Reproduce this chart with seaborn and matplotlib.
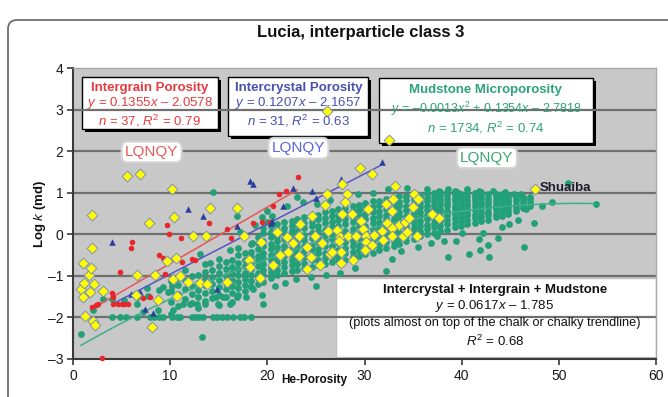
import matplotlib
matplotlib.use("Agg")
import numpy as np
import pandas as pd
import seaborn as sns
import matplotlib.pyplot as plt
from matplotlib.patches import Rectangle, FancyBboxPatch
from matplotlib.transforms import offset_copy, IdentityTransform

# ---------------------------------------------------------------- data
# Mudstone microporosity: dense core, one list of log k values per porosity column
mud_core_x = [10.1, 10.8, 11.5, 12.2, 12.9, 13.6, 14.3, 15.0, 15.7, 16.4, 17.0, 17.7,
              18.3, 19.0, 19.6, 20.4, 21.0, 21.7, 22.5, 23.1, 23.8, 24.6, 25.2, 25.9,
              26.7, 27.3, 28.0, 28.8, 29.4, 30.1, 30.9, 31.5, 32.2, 33.0, 33.6, 34.3,
              35.1, 35.7, 36.4, 37.2, 37.8, 38.5, 39.3, 39.9, 40.6, 41.4, 42.0, 42.7,
              43.5, 44.1, 44.8, 45.6, 46.3, 47.0]
mud_core_y = [
    [-1.91, -1.63, -1.36, -1.13],
    [-1.72, -1.44, -1.21, -1.04],
    [-1.56, -1.31, -1.09, -0.87],
    [-1.66, -1.43, -1.24, -1.01],
    [-1.77, -1.52, -1.34, -1.17, -0.97],
    [-1.61, -1.41, -1.21, -1.07, -0.90, -0.71],
    [-1.54, -1.36, -1.19, -1.03, -0.86],
    [-1.69, -1.46, -1.27, -1.11, -0.94, -0.77, -0.59],
    [-1.51, -1.32, -1.17, -1.01, -0.84, -0.67],
    [-1.63, -1.41, -1.24, -1.09, -0.93, -0.79, -0.61],
    [-1.47, -1.29, -1.14, -0.99, -0.84, -0.69, -0.51, -0.34],
    [-1.37, -1.21, -1.07, -0.92, -0.77, -0.63, -0.46],
    [-1.28, -1.12, -0.99, -0.83, -0.71, -0.55, -0.43, -0.24],
    [-1.20, -1.04, -0.93, -0.77, -0.62, -0.52, -0.35, -0.21, -0.06],
    [-1.14, -0.99, -0.86, -0.72, -0.57, -0.44, -0.27, -0.15, 0.02, 0.15],
    [-1.06, -0.91, -0.80, -0.63, -0.51, -0.35, -0.23, -0.07, 0.05, 0.20],
    [-0.99, -0.86, -0.71, -0.59, -0.44, -0.31, -0.17, -0.05, 0.11, 0.24],
    [-0.93, -0.78, -0.66, -0.53, -0.38, -0.27, -0.11, 0.03, 0.14, 0.29],
    [-0.89, -0.74, -0.63, -0.47, -0.36, -0.21, -0.09, 0.07, 0.19, 0.33],
    [-0.86, -0.71, -0.57, -0.46, -0.31, -0.19, -0.03, 0.09, 0.25, 0.37],
    [-0.82, -0.69, -0.54, -0.41, -0.29, -0.14, -0.01, 0.14, 0.26, 0.41],
    [-0.79, -0.63, -0.51, -0.36, -0.25, -0.09, 0.03, 0.19, 0.30, 0.45],
    [-0.75, -0.61, -0.46, -0.35, -0.19, -0.07, 0.09, 0.20, 0.36, 0.47],
    [-0.71, -0.56, -0.45, -0.29, -0.17, -0.01, 0.11, 0.26, 0.38, 0.53],
    [-0.67, -0.54, -0.39, -0.27, -0.11, 0.01, 0.17, 0.29, 0.44, 0.56],
    [-0.63, -0.49, -0.37, -0.21, -0.09, 0.07, 0.19, 0.35, 0.46, 0.61],
    [-0.61, -0.45, -0.33, -0.19, -0.03, 0.09, 0.25, 0.37, 0.52, 0.63],
    [-0.55, -0.43, -0.27, -0.15, 0.01, 0.13, 0.29, 0.41, 0.56, 0.69],
    [-0.53, -0.37, -0.25, -0.09, 0.03, 0.19, 0.31, 0.47, 0.58, 0.71],
    [-0.47, -0.35, -0.19, -0.07, 0.09, 0.21, 0.37, 0.49, 0.64, 0.75],
    [-0.45, -0.29, -0.17, -0.01, 0.11, 0.27, 0.39, 0.54, 0.65, 0.80],
    [-0.38, -0.26, -0.10, 0.02, 0.18, 0.29, 0.45, 0.56, 0.71, 0.81],
    [-0.34, -0.19, -0.07, 0.09, 0.20, 0.36, 0.47, 0.62, 0.72, 0.86],
    [-0.27, -0.15, 0.00, 0.11, 0.26, 0.37, 0.52, 0.63, 0.77, 0.87],
    [-0.23, -0.08, 0.03, 0.18, 0.29, 0.44, 0.54, 0.68, 0.78, 0.91],
    [-0.16, -0.05, 0.10, 0.21, 0.35, 0.45, 0.59, 0.69, 0.82, 0.91],
    [-0.11, 0.04, 0.14, 0.28, 0.38, 0.52, 0.61, 0.74, 0.84, 0.94],
    [-0.05, 0.07, 0.21, 0.31, 0.44, 0.54, 0.66, 0.75, 0.87, 0.95],
    [0.01, 0.13, 0.23, 0.36, 0.46, 0.58, 0.67, 0.79, 0.88, 0.98],
    [0.03, 0.17, 0.27, 0.40, 0.49, 0.61, 0.70, 0.81, 0.90, 1.00],
    [0.09, 0.19, 0.32, 0.41, 0.53, 0.62, 0.74, 0.82, 0.93, 1.01],
    [0.11, 0.24, 0.34, 0.46, 0.55, 0.67, 0.75, 0.86, 0.94, 1.02],
    [0.17, 0.26, 0.39, 0.48, 0.60, 0.68, 0.79, 0.87, 0.96, 1.03],
    [0.19, 0.31, 0.41, 0.53, 0.61, 0.72, 0.80, 0.90, 0.97],
    [0.25, 0.34, 0.46, 0.54, 0.65, 0.73, 0.83, 0.91, 0.99],
    [0.27, 0.39, 0.47, 0.59, 0.67, 0.77, 0.84, 0.93, 1.00],
    [0.33, 0.41, 0.52, 0.60, 0.70, 0.78, 0.87, 0.94, 1.01],
    [0.35, 0.46, 0.54, 0.65, 0.72, 0.81, 0.88, 0.96],
    [0.41, 0.49, 0.60, 0.67, 0.76, 0.83, 0.91, 0.97],
    [0.44, 0.55, 0.62, 0.71, 0.78, 0.86, 0.92, 0.98],
    [0.50, 0.57, 0.66, 0.73, 0.81, 0.87, 0.94],
    [0.55, 0.64, 0.71, 0.79, 0.85, 0.91],
    [0.63, 0.70, 0.78, 0.84, 0.90],
    [0.69, 0.77, 0.84, 0.90],
]

# Mudstone microporosity: scattered samples around the core
mud_fringe_x = [0.8, 2.1, 3.1, 4.0, 5.3, 6.6, 7.7, 6.6, 7.6, 9.3, 9.8, 10.3, 8.7, 7.2, 8.9,
                13.3, 14.4, 16.9, 18.7, 17.2, 18.4, 20.0, 16.2, 13.1, 14.1, 19.4, 20.0,
                20.5, 22.0, 23.1, 23.7, 25.1, 26.5, 29.3, 30.9, 32.4, 34.4, 36.4, 37.7,
                38.6, 39.5, 40.5, 41.8, 43.2, 44.5, 45.4, 46.1, 50.9, 53.8, 48.3, 49.3,
                47.4, 46.6, 46.4, 44.1, 43.7, 42.7, 42.8, 42.2, 41.9, 41.8, 40.8, 40.0,
                39.4, 38.6, 33.8, 32.8, 32.2, 35.5, 36.8, 37.5, 38.2, 44.9, 45.8, 20.8,
                21.8, 23.0, 24.5, 26.0, 27.5, 25.0, 19.6, 29.0, 18.5, 19.5, 12.0, 13.6,
                16.2, 14.7, 15.4, 16.9, 17.8, 10.2, 11.3, 12.8, 14.9]
mud_fringe_y = [-2.40, -1.82, -1.55, -1.55, -1.58, -1.51, -1.48, -1.68, -1.30, -1.26, -1.40,
                -1.83, -1.82, -1.86, -1.34, -2.46, 1.02, 0.45, 0.22, 0.05, -0.20, 0.30,
                -0.38, -0.48, -0.70, 0.41, 0.57, 0.45, 0.67, 0.89, 0.77, 0.72, 0.82, 0.98,
                1.00, 1.08, 1.12, 1.08, 1.05, 1.10, 1.02, 1.08, 1.05, 1.04, 1.02, 0.98,
                0.97, 1.24, 0.72, 0.67, 0.77, 0.26, 0.60, -0.31, 0.17, -0.10, -0.26,
                -0.54, 0.02, -0.37, -0.12, -0.48, 0.02, -0.17, -0.55, -0.40, -0.60,
                -0.88, -0.30, -0.20, -0.05, -0.15, 0.25, 0.35, -1.25, -1.18, -1.08,
                -1.02, -0.98, -0.92, -1.25, -1.68, -0.82, -1.32, -1.45, -1.68, -1.68,
                -1.68, -1.50, -1.50, -1.50, -1.50, -1.24, -1.68, -1.68, -1.68]

# Mudstone samples at the 0.01 md measurement floor
mud_floor_x = [4.0, 4.8, 5.5, 6.6, 7.9, 8.3, 8.8, 9.3, 10.2, 10.7, 11.0, 12.2, 12.6, 13.0,
               13.4, 14.4, 14.8, 15.3, 15.8, 16.5, 17.2, 17.6, 18.3]
mud_floor_y = [-2.0] * len(mud_floor_x)

# Intergrain porosity
grain_x = [2.0, 2.4, 2.6, 3.0, 4.0, 4.1, 4.1, 4.6, 5.0, 5.3, 5.7, 4.8, 6.1, 6.0, 7.2, 7.9,
           8.9, 9.3, 9.5, 9.7, 9.9, 11.1, 11.2, 12.2, 12.6, 14.0, 15.8, 16.3, 18.5, 19.4,
           20.3, 20.6, 21.2, 21.9, 23.2]
grain_y = [-1.75, -1.70, -1.68, -2.98, -1.42, -1.50, -1.68, -1.68, -1.68, -1.68, -1.68,
           -0.90, -0.19, -0.33, -1.53, -1.50, -0.50, -0.58, -0.96, 0.22, 0.00, -0.10,
           -0.66, -0.60, -0.62, 0.27, 0.13, -0.10, 0.27, 0.29, 0.30, 0.67, 0.98, 1.03,
           1.37]

# Intercrystal porosity
crystal_x = [4.0, 6.0, 6.9, 7.4, 8.2, 11.8, 13.4, 14.8, 16.9, 18.2, 18.5, 20.4, 20.5,
             21.6, 22.6, 24.6, 25.0, 27.6, 31.8]
crystal_y = [-0.18, -1.43, -1.40, -1.80, -1.90, 0.62, 0.43, -1.32, 0.20, 1.27, 1.20,
             0.26, 0.31, 0.67, 1.12, 1.03, 0.88, 1.33, 1.74]

# LQNQY samples
lqnqy_x = [0.8, 1.0, 1.0, 1.1, 1.6, 1.8, 1.9, 2.2, 3.1, 2.0, 2.0, 1.2, 2.1, 2.3,
           5.6, 6.9, 10.2, 7.8, 10.4, 14.1, 16.9, 12.4, 13.7, 17.6, 9.7, 10.6,
           6.6, 8.4, 10.3, 11.0, 11.8, 13.1, 13.8, 15.9, 6.5, 8.7, 10.7, 8.1,
           18.1, 18.2, 19.3, 19.2, 21.0, 22.0, 20.6, 21.3, 22.1, 22.6, 23.3, 23.3,
           24.1, 24.6, 24.1, 24.5, 25.4, 25.6, 26.2, 25.9, 23.4,
           26.1, 26.1, 27.7, 29.5, 30.8, 32.5, 33.1, 35.1, 28.2, 35.5, 28.0, 32.2,
           32.9, 35.0, 32.8, 30.4, 27.7, 28.7, 36.9, 37.7, 29.6, 32.3, 33.5, 34.2,
           34.6, 32.8, 29.8, 27.2, 27.5, 28.3, 29.1, 30.2, 31.0, 31.8, 32.8, 34.0,
           35.4, 34.4, 24.9, 27.4, 30.2, 31.9, 26.4, 27.6, 28.8, 30.0, 27.6, 30.8,
           26.7, 47.5]
lqnqy_y = [-1.32, -1.50, -0.70, -1.18, -0.98, -1.39, -0.82, -1.20, -1.37, 0.46, -0.33,
           -1.97, -2.08, -2.18,
           1.41, 1.46, 1.10, 0.28, 0.42, 0.64, 0.64, -0.04, -0.05, -0.05, -0.65, -0.58,
           -0.99, -0.99, -1.08, -1.01, -1.15, -1.16, -1.20, -1.15, -1.47, -1.58, -1.49,
           -2.23,
           -0.62, -0.79, -0.19, -1.06, 0.06, -0.07, -0.75, -0.50, -0.43, -0.21, -0.03,
           -0.53, -0.30, 0.44, -0.84, -0.55, -0.74, -0.20, 0.07, 0.71, 0.25,
           2.97, 0.97, 1.21, 1.59, 1.44, 2.27, 1.15, 0.98, 0.96, 0.84, 0.77, 0.72,
           0.84, 0.66, 0.57, 0.62, 0.48, 0.50, 0.50, 0.38, 0.31, 0.26, 0.22, 0.29,
           0.38, 0.16, 0.13, 0.11, -0.07, -0.05, -0.03, -0.03, -0.02, 0.07, -0.05,
           -0.05, -0.03, 0.06, -0.05, -0.17, -0.19, -0.14, -0.48, -0.43, -0.62, -0.39,
           -0.69, -0.26, -0.43, 1.10]

# Trend-line coefficients and fitted porosity ranges
grain_fit = (0.1355, -2.0578)
grain_span = (2.0, 23.1)
crystal_fit = (0.1207, -2.1657)
crystal_span = (4.0, 31.6)
mud_fit = (-0.0013, 0.1354, -2.7818)
mud_span = (0.8, 53.7)

y_ticks = [-3, -2, -1, 0, 1, 2, 3, 4]
x_ticks = [0, 10, 20, 30, 40, 50, 60]

# ---------------------------------------------------------------- style
sns.set_style("ticks")
plt.rcParams["font.family"] = ["Liberation Sans", "DejaVu Sans"]
plt.rcParams["mathtext.fontset"] = "custom"
plt.rcParams["mathtext.rm"] = "Liberation Sans"
plt.rcParams["mathtext.it"] = "Liberation Sans:italic"
plt.rcParams["mathtext.bf"] = "Liberation Sans:bold"

RED = "#e8262b"
BLUE = "#2a3f9d"
GREEN = "#22a078"
YELLOW = "#ffff00"

fig = plt.figure(figsize=(6.68, 3.97), dpi=100)
fig.patch.set_facecolor("white")

# rounded frame around the whole chart
frame = FancyBboxPatch((8, -30), 720, 417 - 10, boxstyle="round,pad=0,rounding_size=9",
                       transform=IdentityTransform(), facecolor="none",
                       edgecolor="#6e6e6e", linewidth=1.3, zorder=-5)
fig.add_artist(frame)

ax = fig.add_axes([73 / 668, 38 / 397, 583 / 668, 291 / 397])
ax.set_facecolor("#c8c8c8")

# ---------------------------------------------------------------- marks
core_x, core_y = [], []
for cx, ys in zip(mud_core_x, mud_core_y):
    core_x += [cx] * len(ys)
    core_y += ys
mud = pd.DataFrame({
    "porosity": core_x + mud_fringe_x + mud_floor_x,
    "logk": core_y + mud_fringe_y + mud_floor_y,
})
sns.scatterplot(data=mud, x="porosity", y="logk", ax=ax, color=GREEN, s=24,
                linewidth=0, marker="o", zorder=2, legend=False)

def fit_line(coefs, span, n=60):
    xs = np.linspace(span[0], span[1], n)
    return xs, np.polyval(coefs, xs)

for coefs, span, col in [(mud_fit, mud_span, "#3cb08a"),
                         (grain_fit, grain_span, "#ea5555"),
                         (crystal_fit, crystal_span, "#5656c4")]:
    lx, ly = fit_line(coefs, span)
    sns.lineplot(x=lx, y=ly, ax=ax, color=col, linewidth=1.1, zorder=3,
                 estimator=None, sort=False)

sns.scatterplot(x=grain_x, y=grain_y, ax=ax, color=RED, s=16, linewidth=0,
                marker="o", zorder=3.5, clip_on=False)
sns.scatterplot(x=crystal_x, y=crystal_y, ax=ax, color=BLUE, s=22, linewidth=0,
                marker="^", zorder=3.5)
sns.scatterplot(x=lqnqy_x, y=lqnqy_y, ax=ax, color=YELLOW, s=30, marker="D",
                edgecolor="#8090b4", linewidth=0.7, zorder=6)

# ---------------------------------------------------------------- axes
ax.set_xlim(0, 60)
ax.set_ylim(-3, 4)
ax.set_xticks(x_ticks)
ax.set_yticks(y_ticks)
ax.set_xticklabels([str(t) for t in x_ticks])
ax.set_yticklabels([str(t).replace("-", "\u2013") for t in y_ticks])
ax.tick_params(axis="both", labelsize=10, length=4, width=1.2, color="#3a3a3a",
               labelcolor="#1a1a1a", pad=3)
ax.set_xlabel("")
ax.set_ylabel("")
for side in ["left", "bottom"]:
    ax.spines[side].set_color("#3a3a3a")
    ax.spines[side].set_linewidth(1.5)
for side in ["top", "right"]:
    ax.spines[side].set_color("#a8a8a8")
    ax.spines[side].set_linewidth(1.0)
    ax.spines[side].set_visible(True)
for gy in [-2, -1, 0, 1, 2, 3]:
    ax.axhline(gy, color="#6f6f6f", linewidth=1.6, zorder=1.5)

# ---------------------------------------------------------------- annotation panels
shadow_tf = offset_copy(ax.transData, fig=fig, x=3, y=-3, units="dots")

def panel(x0, y0, x1, y1, shadow=True, edge="black", lw=1.0):
    if shadow:
        ax.add_patch(Rectangle((x0, y0), x1 - x0, y1 - y0, transform=shadow_tf,
                               facecolor="black", edgecolor="none", zorder=1.1))
    ax.add_patch(Rectangle((x0, y0), x1 - x0, y1 - y0, facecolor="white",
                           edgecolor=edge, linewidth=lw, zorder=1.2))

panel(0.93, 2.53, 14.9, 3.78)
panel(15.95, 2.36, 30.4, 3.78)
panel(31.5, 2.19, 53.5, 3.76)
panel(27.1, -2.95, 60.0, -1.05, shadow=False, edge="#bdbdbd", lw=1.0)

def put(x, y, s, color, bold=False, size=9.5):
    ax.text(x, y, s, color=color, ha="center", va="center", fontsize=size,
            fontweight="bold" if bold else "normal", zorder=7)

put(7.9, 3.52, "Intergrain Porosity", "#e8393e", bold=True)
put(7.9, 3.16, "$y$ = 0.1355$x$ \u2013 2.0578", "#e8393e")
put(7.9, 2.72, "$n$ = 37, $R^2$ = 0.79", "#e8393e")

put(23.2, 3.52, "Intercrystal Porosity", "#4650b0", bold=True)
put(23.2, 3.16, "$y$ = 0.1207$x$ \u2013 2.1657", "#4650b0")
put(23.2, 2.72, "$n$ = 31, $R^2$ = 0.63", "#4650b0")

put(42.5, 3.47, "Mudstone Microporosity", "#2ea27a", bold=True)
put(42.5, 3.02, "$y$ = \u20130.0013$x^2$ + 0.1354$x$ \u2013 2.7818", "#2ea27a", size=9)
put(42.5, 2.57, "$n$ = 1734, $R^2$ = 0.74", "#2ea27a")

put(43.4, -1.34, "Intercrystal + Intergrain + Mudstone", "#111111", bold=True)
put(43.4, -1.73, "$y$ = 0.0617$x$ \u2013 1.785", "#111111")
put(43.4, -2.13, "(plots almost on top of the chalk or chalky trendline)", "#111111",
    size=9.2)
put(43.4, -2.57, "$R^2$ = 0.68", "#111111")

for lx, ly, col in [(8.1, 1.98, "#e85a5a"), (23.2, 2.07, "#5a64e0"), (42.6, 1.84, "#38a86e")]:
    ax.text(lx, ly, "LQNQY", color=col, fontsize=11, ha="center", va="center", zorder=7,
            bbox=dict(boxstyle="round,pad=0.22,rounding_size=0.4", facecolor="white",
                      edgecolor="#d4d4d4", linewidth=1.5))

ax.text(48.0, 1.11, "Shuaiba", color="#1c1c2c", fontsize=9.5, fontweight="bold",
        ha="left", va="center", zorder=7)

# ---------------------------------------------------------------- titles
fig.text(361 / 668, 1 - 33 / 397, "Lucia, interparticle class 3", ha="center",
         va="center", fontsize=12, fontweight="bold", color="#111111")
fig.text(281 / 668, 1 - 380 / 397, "He-Porosity", ha="left", va="center",
         fontsize=8.5, fontweight="bold", color="#111111")
fig.text(40 / 668, 1 - 214 / 397, r"Log $\mathbf{\it{k}}$ (md)", rotation=90,
         ha="center", va="center", fontsize=9.5, fontweight="bold", color="#111111")

fig.savefig("out.png", dpi=100)
